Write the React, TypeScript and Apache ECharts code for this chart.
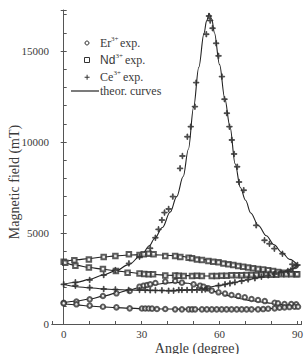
import React, { useEffect, useRef } from "react";
import * as echarts from "echarts";

// ---- data (angle in degrees, field in mT) ----
const erExpUpper: number[][] = [
  [0, 1170], [4.9, 1230], [10, 1355], [15.1, 1540], [20.3, 1685], [25.4, 1810], [29.2, 2050], [30.8, 2105],
  [32.1, 2140], [33.3, 2180], [35.3, 2250], [39.1, 2330], [42.9, 2360], [45.5, 2270], [50, 2180], [52.5, 2105],
  [53.8, 2050], [55.7, 1960], [57, 1830], [59.6, 1740], [62.1, 1670], [64.6, 1590], [67.2, 1540], [69.7, 1465],
  [72.3, 1375], [74.8, 1320], [77.4, 1260], [81.2, 1170], [82.5, 1135], [85, 1100], [87.6, 1100], [89.5, 1080],
];
const erExpLower: number[][] = [
  [0, 1135], [4.9, 1080], [10, 1010], [15.1, 950], [20.3, 915], [25.4, 860], [30.1, 850], [31.4, 850],
  [32.7, 850], [34, 845], [35.9, 825], [39.1, 825], [42.9, 805], [45.5, 805], [48.1, 805], [49.4, 805],
  [50.6, 805], [53.2, 805], [55.1, 805], [57, 805], [58.9, 805], [60.8, 805], [62.7, 805], [64.6, 805],
  [66.6, 805], [68.5, 805], [70.4, 805], [72.3, 805], [74.8, 805], [76.8, 820], [78.7, 840], [81.2, 860],
  [83.1, 895], [85, 915], [86.9, 930], [88.9, 950], [90.2, 950],
];
const ndExpUpper: number[][] = [
  [0, 3425], [4.1, 3500], [9.7, 3550], [15.4, 3680], [19.9, 3740], [25.1, 3830], [29.2, 3790], [30.8, 3830],
  [32.7, 3860], [34.6, 3830], [39.1, 3740], [42.9, 3740], [44.9, 3680], [48.1, 3640], [49.4, 3610],
  [51.3, 3550], [53.2, 3520], [55.7, 3460], [57.6, 3420], [59.6, 3390], [61.5, 3330], [63.4, 3280],
  [65.3, 3240], [67.2, 3190], [69.1, 3150], [71, 3110], [72.9, 3060], [74.8, 3020], [76.8, 2990],
  [78.7, 2950], [80.6, 2910], [82.5, 2860], [84.4, 2820], [86.9, 2840], [89.5, 2730],
];
const ndExpLower: number[][] = [
  [0.6, 3370], [4.5, 3200], [9.7, 3100], [15.1, 3020], [20.1, 2910], [24.6, 2820], [29.2, 2770], [31, 2750],
  [32.7, 2730], [34.4, 2730], [39.1, 2660], [42.9, 2660], [44.3, 2655], [46.2, 2640], [49.4, 2640],
  [51.3, 2655], [53.2, 2640], [57, 2640], [58.9, 2640], [60.8, 2655], [62.7, 2655], [64.6, 2675],
  [66.6, 2675], [68.5, 2675], [70.4, 2690], [72.3, 2690], [74.2, 2690], [76.1, 2710], [78, 2710],
  [79.9, 2710], [81.8, 2710], [83.8, 2730], [85.7, 2730], [87.6, 2730], [89.9, 2730],
];
const ceExpUpper: number[][] = [
  [0, 2180], [4.5, 2290], [10, 2420], [15.4, 2690], [19.9, 2960], [25.1, 3330], [29.2, 3700], [33.3, 4160],
  [35.3, 4740], [36.5, 5200], [37.8, 5710], [38.8, 6120], [40.4, 6320], [42, 7000], [44.8, 8550],
  [45.7, 9230], [47.6, 10290], [48.9, 10840], [50.5, 11940], [51, 13260], [54.9, 15920], [55.9, 16920],
  [56.4, 16670], [57.3, 16250], [58.7, 15420], [59.6, 14730], [60.9, 13590], [61.9, 12350], [62.8, 11580],
  [63.8, 10840], [64.7, 10110], [65.6, 9340], [66.8, 8640], [67.5, 7800], [69.3, 7350], [74.1, 5420],
  [77.3, 4600], [79.2, 4410], [81.1, 4140], [84.2, 3860], [88, 3280], [90, 3240],
];
const ceExpLower: number[][] = [
  [4.5, 2105], [10, 2000], [15.4, 1920], [19.9, 1900], [25, 1870], [29.2, 1870], [31.4, 1870], [33.3, 1850],
  [35.3, 1850], [37.8, 1850], [40.4, 1830], [42.3, 1830], [44.3, 1870], [45.5, 1870], [47.5, 1870],
  [49.4, 1870], [51.3, 1870], [53.2, 1870], [54.5, 1900], [55.1, 1960], [59.6, 2105], [62.1, 2180],
  [64, 2230], [65.9, 2290], [68.5, 2360], [71, 2450], [73.6, 2510], [76.1, 2600], [78.7, 2670],
  [81.2, 2750], [83.8, 2820], [86.3, 2910], [88.2, 3060], [89.5, 3200],
];

const erTheoryUpper: number[][] = [
  [0, 1170], [5, 1260], [10, 1370], [15, 1520], [20, 1680], [25, 1860], [30, 2030], [35, 2170], [40, 2260],
  [43, 2290], [46, 2260], [48, 2235], [50, 2170], [53, 2050], [56, 1900], [58, 1790], [60, 1700], [64, 1540],
  [68, 1390], [72, 1290], [76, 1210], [80, 1140], [85, 1060], [90, 1000],
];
const erTheoryLower: number[][] = [
  [0, 1130], [5, 1050], [10, 990], [15, 940], [20, 900], [25, 870], [30, 845], [40, 825], [50, 810],
  [60, 805], [70, 810], [75, 815], [80, 850], [85, 900], [90, 1000],
];
const ndTheoryUpper: number[][] = [
  [0, 3410], [5, 3530], [10, 3600], [15, 3680], [20, 3740], [25, 3790], [30, 3810], [35, 3800], [40, 3780],
  [45, 3720], [50, 3620], [55, 3530], [60, 3420], [65, 3280], [70, 3150], [75, 3020], [80, 2900],
  [85, 2800], [90, 2750],
];
const ndTheoryLower: number[][] = [
  [0, 3410], [5, 3220], [10, 3100], [15, 3010], [20, 2920], [25, 2840], [30, 2770], [35, 2720], [40, 2680],
  [45, 2660], [50, 2650], [55, 2640], [60, 2640], [65, 2650], [70, 2660], [75, 2680], [80, 2700],
  [85, 2720], [90, 2750],
];
const ceTheoryUpper: number[][] = [
  [0, 2180], [5, 2290], [10, 2450], [15, 2680], [20, 2920], [25, 3260], [30, 3800], [33, 4300], [35, 4700],
  [38, 5300], [41, 6150], [43.5, 7000], [46, 8100], [48, 9600], [50, 11900], [52, 14100], [54, 15950],
  [55, 16650], [56, 17050], [57, 16750], [58, 16000], [60, 14250], [62, 12400], [64, 10850], [66, 8800],
  [68, 7500], [70, 6800], [72, 6100], [75, 5400], [78, 4850], [81, 4350], [84, 3920], [87, 3550], [90, 3250],
];
const ceTheoryLower: number[][] = [
  [0, 2180], [5, 2050], [10, 1990], [15, 1930], [20, 1890], [25, 1870], [30, 1850], [35, 1840], [40, 1830],
  [45, 1840], [50, 1880], [55, 2000], [60, 2120], [65, 2260], [70, 2400], [75, 2550], [80, 2700],
  [85, 2880], [88, 3030], [90, 3250],
];

const xTickLabels = [0, 30, 60, 90];
const yTickLabels = [0, 5000, 10000, 15000];

const INK = "#222";
const MARK = "#333";
const TXT = "#3a3a3a";
const AX = "#555";
const SERIF = "'Liberation Serif', 'Times New Roman', serif";
const PLUS = "path://M2.1,0H2.9V2.1H5V2.9H2.9V5H2.1V2.9H0V2.1H2.1Z";

export default function App() {
  const ref = useRef<HTMLDivElement>(null);
  useEffect(() => {
    if (!ref.current) return;
    const chart = echarts.init(ref.current, null, { renderer: "svg" });
    const theory = (d: number[][]) => ({
      type: "line",
      name: "theor. curves",
      data: d,
      smooth: 0.35,
      smoothMonotone: "x",
      showSymbol: false,
      symbol: "none",
      lineStyle: { color: INK, width: 1.1 },
      z: 2,
    });
    const scat = (name: string, d: number[][], symbol: string, size: number) => ({
      type: "scatter",
      name,
      data: d,
      symbol,
      symbolSize: size,
      itemStyle: { color: MARK, borderColor: MARK, borderWidth: 0.9 },
      z: 3,
    });
    const legendText = (y: number, base: string, sup: string, supX: number, expX: number, font: string) => [
      { type: "text", x: 100, y, style: { text: base, font: `12px ${font}`, fill: TXT, verticalAlign: "middle" } },
      { type: "text", x: supX, y: y - 4, style: { text: sup, font: `7px ${SERIF}`, fill: TXT, verticalAlign: "middle" } },
      { type: "text", x: expX, y, style: { text: "exp.", font: `12px ${SERIF}`, fill: TXT, verticalAlign: "middle" } },
    ];
    chart.setOption({
      animation: false,
      backgroundColor: "#fff",
      grid: { left: 52, right: 0, top: 10, bottom: 30 },
      xAxis: [
        {
          type: "value",
          min: -4.5,
          max: 91.5,
          minInterval: 10,
          maxInterval: 10,
          axisLine: { lineStyle: { color: AX, width: 1 } },
          axisTick: { inside: true, length: 3, lineStyle: { color: AX } },
          splitLine: { show: false },
          axisLabel: {
            color: TXT,
            fontFamily: SERIF,
            fontSize: 11,
            margin: 4,
            formatter: (v: number) => (xTickLabels.includes(v) ? String(v) : ""),
          },
        },
        {
          type: "value",
          position: "top",
          min: -4.5,
          max: 91.5,
          axisLine: { show: true, lineStyle: { color: AX, width: 1 } },
          axisTick: { show: false },
          axisLabel: { show: false },
          splitLine: { show: false },
        },
      ],
      yAxis: [
        {
          type: "value",
          min: 0,
          max: 17250,
          interval: 5000,
          axisLine: { show: true, lineStyle: { color: AX, width: 1 } },
          axisTick: { show: true, inside: false, length: 3, lineStyle: { color: AX } },
          splitLine: { show: false },
          axisLabel: {
            color: TXT,
            fontFamily: SERIF,
            fontSize: 11,
            margin: 3,
            formatter: (v: number) => (yTickLabels.includes(v) ? String(v) : ""),
          },
        },
        {
          type: "value",
          position: "left",
          min: 0,
          max: 17250,
          interval: 1000,
          axisLine: { show: false },
          axisTick: { show: true, inside: true, length: 3, lineStyle: { color: AX } },
          axisLabel: { show: false },
          splitLine: { show: false },
        },
      ],
      graphic: [
        {
          type: "text",
          x: 14,
          y: 182,
          rotation: Math.PI / 2,
          style: {
            text: "Magnetic field (mT)",
            font: `14px ${SERIF}`,
            fill: TXT,
            align: "center",
            verticalAlign: "middle",
          },
        },
        {
          type: "text",
          x: 197,
          y: 348,
          style: {
            text: "Angle (degree)",
            font: `14px ${SERIF}`,
            fill: TXT,
            align: "center",
            verticalAlign: "middle",
          },
        },
        { type: "circle", shape: { cx: 87, cy: 43, r: 2 }, style: { fill: "#fff", stroke: MARK, lineWidth: 1 } },
        { type: "rect", shape: { x: 84.5, y: 57.5, width: 5, height: 5 }, style: { fill: "#fff", stroke: MARK, lineWidth: 1 } },
        { type: "polygon", shape: { points: [[86.6, 74.8], [87.6, 74.8], [87.6, 76.8], [89.6, 76.8], [89.6, 77.8], [87.6, 77.8], [87.6, 79.8], [86.6, 79.8], [86.6, 77.8], [84.6, 77.8], [84.6, 76.8], [86.6, 76.8]] }, style: { fill: MARK } },
        { type: "line", shape: { x1: 71, y1: 91, x2: 99, y2: 91 }, style: { stroke: INK, lineWidth: 1.2 } },
        ...legendText(43, "Er", "3+", 111, 120, SERIF),
        ...legendText(60, "Nd", "3+", 115.5, 125, "'Liberation Sans', Arial, sans-serif"),
        ...legendText(77, "Ce", "3+", 113.5, 123, SERIF),
        { type: "text", x: 100, y: 91, style: { text: "theor. curves", font: `12px ${SERIF}`, fill: TXT, verticalAlign: "middle" } },
      ],
      series: [
        theory(erTheoryUpper),
        theory(erTheoryLower),
        theory(ndTheoryUpper),
        theory(ndTheoryLower),
        theory(ceTheoryUpper),
        theory(ceTheoryLower),
        scat("Er3+ exp.", erExpUpper, "emptyCircle", 4.5),
        scat("Er3+ exp.", erExpLower, "emptyCircle", 4.5),
        scat("Nd3+ exp.", ndExpUpper, "emptyRect", 4.5),
        scat("Nd3+ exp.", ndExpLower, "emptyRect", 4.5),
        scat("Ce3+ exp.", ceExpUpper, PLUS, 5.5),
        scat("Ce3+ exp.", ceExpLower, PLUS, 5.5),
      ],
    });
    return () => chart.dispose();
  }, []);
  return (
    <div
      ref={ref}
      style={{ position: "fixed", left: 0, top: 0, width: 306, height: 354, background: "#fff" }}
    />
  );
}
